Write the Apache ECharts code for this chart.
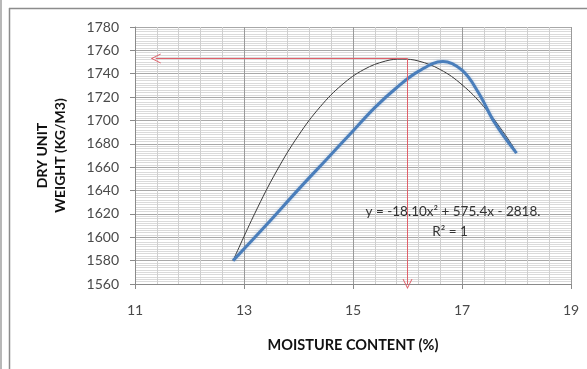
<!DOCTYPE html>
<html>
<head>
<meta charset="utf-8">
<script src="https://cdn.jsdelivr.net/npm/echarts@6/dist/echarts.min.js"></script>
<style>
html,body{margin:0;padding:0;background:#fff;}
#chart{width:587px;height:369px;}
</style>
</head>
<body>
<div id="chart"></div>
<script>
const measuredX = [12.8, 13.4, 14.0, 14.5, 15.0, 15.4, 15.8, 16.2, 16.65, 17.0, 17.3, 17.6, 18.0];
const measuredY = [1580, 1610, 1641, 1666, 1691, 1711, 1728, 1742, 1750.5, 1743, 1724, 1698, 1672];
// Trendline (thin dark curve)
const trendX = [12.8, 13.2, 13.6, 14.0, 14.4, 14.8, 15.2, 15.6, 15.9, 16.2, 16.6, 17.0, 17.4, 17.8, 18.0];
const trendY = [1580, 1620.6, 1656.8, 1687.2, 1711.8, 1730.6, 1743.6, 1750.9, 1752.5, 1750.9, 1743.6, 1730.6, 1711.8, 1687.2, 1672.7];
// Reading guides (red arrows): optimum moisture content and max dry unit weight
const optimumX = 16;
const maxDryWeight = 1753;
const arrowEndX = 11.38;
const axisBottomY = 1560;
const equationText = 'y = -18.10x² + 575.4x - 2818.';
const r2Text = 'R² = 1';
const xTitle = 'MOISTURE CONTENT (%)';
const yTitle = 'DRY UNIT\nWEIGHT (KG/M3)';

const chevron = 'path://M5,0 L10,10 L9,10 L5,2 L1,10 L0,10 Z';
const font = 'Lato';
const chart = echarts.init(document.getElementById('chart'));
chart.setOption({
  animation: false,
  backgroundColor: '#fff',
  textStyle: {fontFamily: font},
  grid: {left: 135, right: 16, top: 27, bottom: 85},
  graphic: [
    {type: 'line', z: 100, shape: {x1: 9.5, y1: 8, x2: 9.5, y2: 369}, style: {stroke: '#8c8c8c', lineWidth: 1.5}},
    {type: 'line', z: 100, shape: {x1: 9, y1: 8.5, x2: 587, y2: 8.5}, style: {stroke: '#8c8c8c', lineWidth: 1.5}},
    {type: 'line', z: 100, shape: {x1: 1, y1: 0, x2: 1, y2: 369}, style: {stroke: '#a0a0a0', lineWidth: 1.5}},
    {type: 'text', z: 100, x: 453, y: 212, style: {text: equationText, font: '13.5px Lato', fill: '#333', textAlign: 'center', textVerticalAlign: 'middle'}},
    {type: 'text', z: 100, x: 450, y: 232, style: {text: r2Text, font: '13.5px Lato', fill: '#333', textAlign: 'center', textVerticalAlign: 'middle'}}
  ],
  xAxis: {
    type: 'value', min: 11, max: 19, interval: 2,
    name: xTitle, nameLocation: 'middle', nameGap: 54,
    nameTextStyle: {fontFamily: font, fontWeight: 'bold', fontSize: 14.5, color: '#111'},
    axisLine: {show: true, lineStyle: {color: '#8a8a8a'}},
    axisTick: {show: true, length: 5, lineStyle: {color: '#8a8a8a'}},
    axisLabel: {fontFamily: font, fontSize: 14, color: '#4a4a4a', margin: 19},
    splitLine: {show: true, lineStyle: {color: '#9a9a9a', width: 1}},
    minorTick: {show: false, splitNumber: 5},
    minorSplitLine: {show: true, lineStyle: {color: '#cfcfcf', width: 1}}
  },
  yAxis: {
    type: 'value', min: 1560, max: 1780, interval: 20,
    name: yTitle, nameLocation: 'middle', nameGap: 65, nameRotate: 90,
    nameTextStyle: {fontFamily: font, fontWeight: 'bold', fontSize: 14, color: '#111', lineHeight: 18.5, align: 'center'},
    axisLine: {show: true, lineStyle: {color: '#8a8a8a'}},
    axisTick: {show: true, length: 5, lineStyle: {color: '#8a8a8a'}},
    axisLabel: {fontFamily: font, fontSize: 14, color: '#4a4a4a', margin: 16, formatter: v => String(v)},
    splitLine: {show: true, lineStyle: {color: '#a8a8a8', width: 1}},
    minorTick: {show: false, splitNumber: 10},
    minorSplitLine: {show: true, lineStyle: {color: '#dadada', width: 1}}
  },
  series: [
    {
      type: 'line', name: 'Trendline',
      data: trendX.map((x, i) => [x, trendY[i]]),
      smooth: 0.4, showSymbol: false,
      lineStyle: {color: '#3a3a3a', width: 1},
      z: 3,
      markLine: {
        silent: true, animation: false,
        symbol: ['none', chevron], symbolSize: [10, 10],
        label: {show: false},
        lineStyle: {color: '#e0606a', width: 1, type: 'solid'},
        data: [
          [{coord: [optimumX, maxDryWeight]}, {coord: [arrowEndX, maxDryWeight]}],
          [{coord: [optimumX, maxDryWeight]}, {coord: [optimumX, axisBottomY]}]
        ]
      }
    },
    {
      type: 'line', name: 'Dry unit weight',
      data: measuredX.map((x, i) => [x, measuredY[i]]),
      smooth: 0.4, showSymbol: false,
      lineStyle: {color: '#4a7ebb', width: 3, shadowColor: 'rgba(74,126,187,0.35)', shadowBlur: 3},
      z: 4
    }
  ]
});
</script>
</body>
</html>
